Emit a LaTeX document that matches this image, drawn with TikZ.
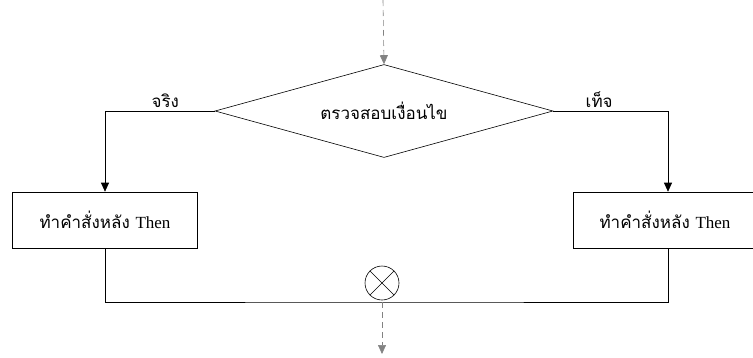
\documentclass[tikz,border=0pt]{standalone}
\usepackage{fontspec}
\newfontfamily\thaifont[Script=Thai]{Loma}
\newfontfamily\latinserif{Liberation Serif}
\usepackage{tikz}
\usetikzlibrary{shapes.geometric, arrows.meta, positioning, calc}
\definecolor{flowgray}{RGB}{130, 130, 130}

\begin{document}
\begin{tikzpicture}[
    x=1pt, y=-1pt,
    font=\thaifont\fontsize{17}{20}\selectfont,
    decision/.style={diamond, draw, semithick, aspect=3.6, inner sep=0pt,
                     minimum width=338pt, minimum height=93pt, align=center},
    stmt/.style={rectangle, draw, semithick, minimum height=56pt, align=center},
    arr/.style={-{Triangle[length=9pt, width=8pt]}, semithick},
    dasharr/.style={-{Triangle[length=9pt, width=8pt]}, dash pattern=on 6pt off 4pt,
                    flowgray, semithick},
    junction/.style={circle, draw, semithick, minimum size=34pt, inner sep=0pt},
]
\useasboundingbox (0,0) rectangle (753,357);

\coordinate (entry) at (383,0);
\node[decision] (cond) at (384,111) {ตรวจสอบเงื่อนไข};
\node[stmt, minimum width=185pt] (thenL) at (105,220) {ทำคำสั่งหลัง {\latinserif Then}};
\node[stmt, minimum width=184pt] (thenR) at (665,220) {ทำคำสั่งหลัง {\latinserif Then}};
\node[junction] (merge) at (382,283) {};
\coordinate (exit) at (382,354);
\coordinate (join) at (382,302);

\draw[dasharr] (entry) -- (cond.north);
\draw[arr] (cond.west) -- (105,111) node[above, pos=0.45] {จริง} -- (thenL.north);
\draw[arr] (cond.east) -- (668,111) node[above, pos=0.4] {เท็จ} -- (thenR.north -| 668,0);
\draw[semithick] (thenL.south) |- (join) -| (thenR.south -| 668,0);
\draw[semithick] (merge.north west) -- (merge.south east);
\draw[semithick] (merge.north east) -- (merge.south west);
\draw[dasharr] (join) -- (exit);

\end{tikzpicture}
\end{document}
